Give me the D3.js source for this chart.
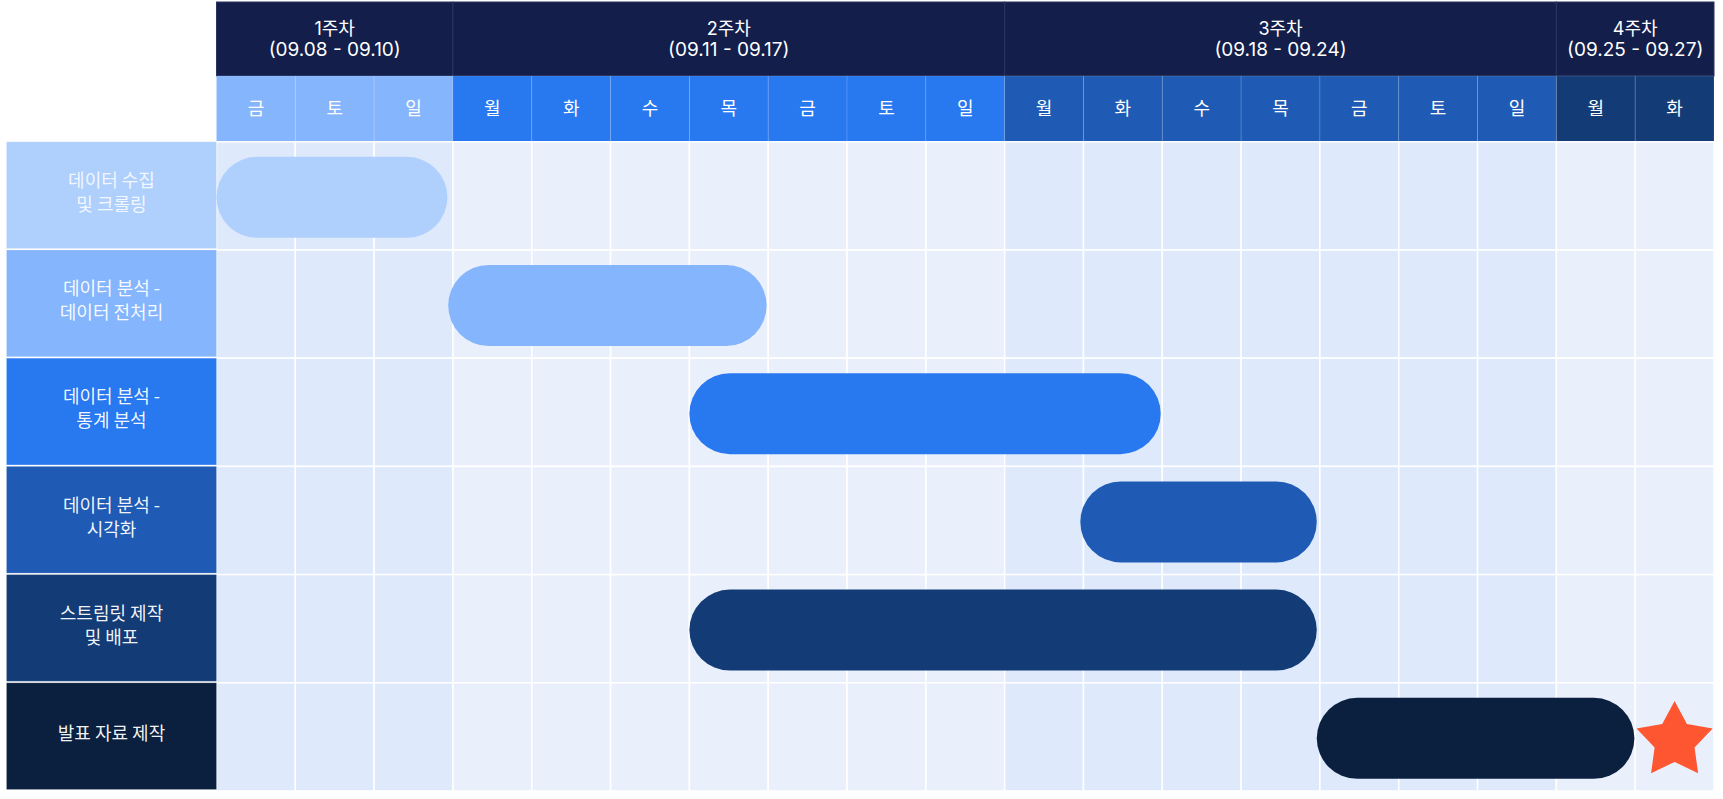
<!DOCTYPE html>
<html><head><meta charset="utf-8">
<script src="https://cdn.jsdelivr.net/npm/d3@7"></script>
<style>
html,body{margin:0;padding:0;background:#fff;}
svg{display:block;font-family:"Noto Sans CJK KR","Noto Sans",sans-serif;}
</style></head>
<body>
<svg id="chart" width="1723" height="799"></svg>
<script>
// ---- data ----
const weeks = ["1주차", "2주차", "3주차", "4주차"];
const weekRanges = ["(09.08 - 09.10)", "(09.11 - 09.17)", "(09.18 - 09.24)", "(09.25 - 09.27)"];
const weekDays = [3, 7, 7, 2];
const dayLabels = ["금","토","일","월","화","수","목","금","토","일","월","화","수","목","금","토","일","월","화"];
const tasks = ["데이터 수집\n및 크롤링", "데이터 분석 -\n데이터 전처리", "데이터 분석 -\n통계 분석", "데이터 분석 -\n시각화", "스트림릿 제작\n및 배포", "발표 자료 제작"];
const taskStart = [0, 2.94, 6.0, 10.96, 6.0, 13.96];
const taskEnd   = [2.93, 6.98, 11.98, 13.96, 13.96, 17.99];
const milestoneTask = 5;
const milestoneDay = 18.5;

// ---- styles ----
const taskColors = ["#AFD0FD", "#85B5FD", "#2878F0", "#1F5BB4", "#133C77", "#0B1F3E"];
const weekDayColors = ["#85B5FD", "#2878F0", "#1F5BB4", "#133C77"];
const weekBg = ["#DEE9FC", "#EAF0FB", "#DEE9FC", "#EAF0FB"];
const headerColor = "#131E4B";

const svg = d3.select("#chart");
const x = d3.scaleLinear().domain([0, dayLabels.length]).range([216.5, 1714]);
const y = d3.scaleBand().domain(d3.range(tasks.length)).range([141.8, 791]).padding(0);
const weekTop = 2, weekBottom = 76, dayBottom = 141.8;

const dayWeek = [];
weekDays.forEach((n, w) => { for (let i = 0; i < n; i++) dayWeek.push(w); });
const weekStart = weekDays.map((n, w) => d3.sum(weekDays.slice(0, w)));

// ---- week header ----
const wk = svg.append("g");
wk.selectAll("rect").data(weeks).join("rect")
  .attr("x", (d, i) => x(weekStart[i])).attr("y", weekTop)
  .attr("width", (d, i) => x(weekStart[i] + weekDays[i]) - x(weekStart[i]))
  .attr("height", weekBottom - weekTop)
  .attr("fill", headerColor).attr("stroke", "#2a3560").attr("stroke-width", 1);
wk.selectAll("text.wn").data(weeks).join("text").attr("class", "wn")
  .attr("x", (d, i) => x(weekStart[i] + weekDays[i] / 2)).attr("y", 35)
  .attr("text-anchor", "middle").attr("fill", "#fff")
  .attr("font-family", "Inter, 'Noto Sans CJK KR', sans-serif").attr("font-size", 18)
  .text(d => d);
wk.selectAll("text.wr").data(weekRanges).join("text").attr("class", "wr")
  .attr("x", (d, i) => x(weekStart[i] + weekDays[i] / 2)).attr("y", 56)
  .attr("text-anchor", "middle").attr("fill", "#fff")
  .attr("font-family", "Inter, 'Noto Sans CJK KR', sans-serif").attr("font-size", 19)
  .text(d => d);

// ---- day header ----
const dh = svg.append("g");
dh.selectAll("rect").data(dayLabels).join("rect")
  .attr("x", (d, i) => x(i)).attr("y", weekBottom)
  .attr("width", x(1) - x(0)).attr("height", dayBottom - weekBottom)
  .attr("fill", (d, i) => weekDayColors[dayWeek[i]])
  .attr("stroke", "rgba(255,255,255,0.12)").attr("stroke-width", 1);
dh.selectAll("text").data(dayLabels).join("text")
  .attr("x", (d, i) => x(i + 0.5)).attr("y", 115)
  .attr("text-anchor", "middle").attr("fill", "#fff").attr("font-size", 18)
  .text(d => d);

// ---- grid cells ----
const cells = [];
tasks.forEach((t, r) => dayLabels.forEach((d, c) => cells.push({ r, c })));
svg.append("g").selectAll("rect").data(cells).join("rect")
  .attr("x", d => x(d.c)).attr("y", d => y(d.r))
  .attr("width", x(1) - x(0)).attr("height", y.bandwidth())
  .attr("fill", d => weekBg[dayWeek[d.c]])
  .attr("stroke", "#fff").attr("stroke-width", 1.5);

// ---- task labels ----
const lab = svg.append("g");
lab.selectAll("rect").data(tasks).join("rect")
  .attr("x", 6.5).attr("y", (d, i) => y(i))
  .attr("width", x(0) - 6.5).attr("height", y.bandwidth() - 1.5)
  .attr("fill", (d, i) => taskColors[i])
  .attr("stroke", "rgba(255,255,255,0.15)").attr("stroke-width", 1);
const lt = lab.selectAll("text").data(tasks).join("text")
  .attr("text-anchor", "middle").attr("fill", "#fff")
  .attr("fill-opacity", (d, i) => i === 0 ? 0.85 : 0.95)
  .attr("font-size", 18);
lt.each(function (d, i) {
  const lines = d.split("\n");
  const cx = (6.5 + x(0)) / 2;
  const cy = y(i) + y.bandwidth() / 2 - 3;
  const lh = 24;
  lines.forEach((ln, k) => {
    d3.select(this).append("tspan")
      .attr("x", cx)
      .attr("y", cy + (k - (lines.length - 1) / 2) * lh + 6)
      .text(ln);
  });
});

// ---- bars ----
const barH = 81;
svg.append("g").selectAll("rect").data(tasks).join("rect")
  .attr("x", (d, i) => x(taskStart[i]))
  .attr("y", (d, i) => y(i) + 15)
  .attr("width", (d, i) => x(taskEnd[i]) - x(taskStart[i]))
  .attr("height", barH)
  .attr("rx", barH / 2).attr("ry", barH / 2)
  .attr("fill", (d, i) => taskColors[i]);

// ---- milestone star ----
const R = 40, r = 21;
const starPts = d3.range(10).map(k => {
  const a = -Math.PI / 2 + k * Math.PI / 5;
  const rr = k % 2 === 0 ? R : r;
  return [rr * Math.cos(a), rr * Math.sin(a)];
});
svg.append("path")
  .attr("d", d3.line()(starPts) + "Z")
  .attr("transform", `translate(${x(milestoneDay)},${y(milestoneTask) + y.bandwidth() / 2 + 4})`)
  .attr("fill", "#FE5631");
</script>
</body></html>
